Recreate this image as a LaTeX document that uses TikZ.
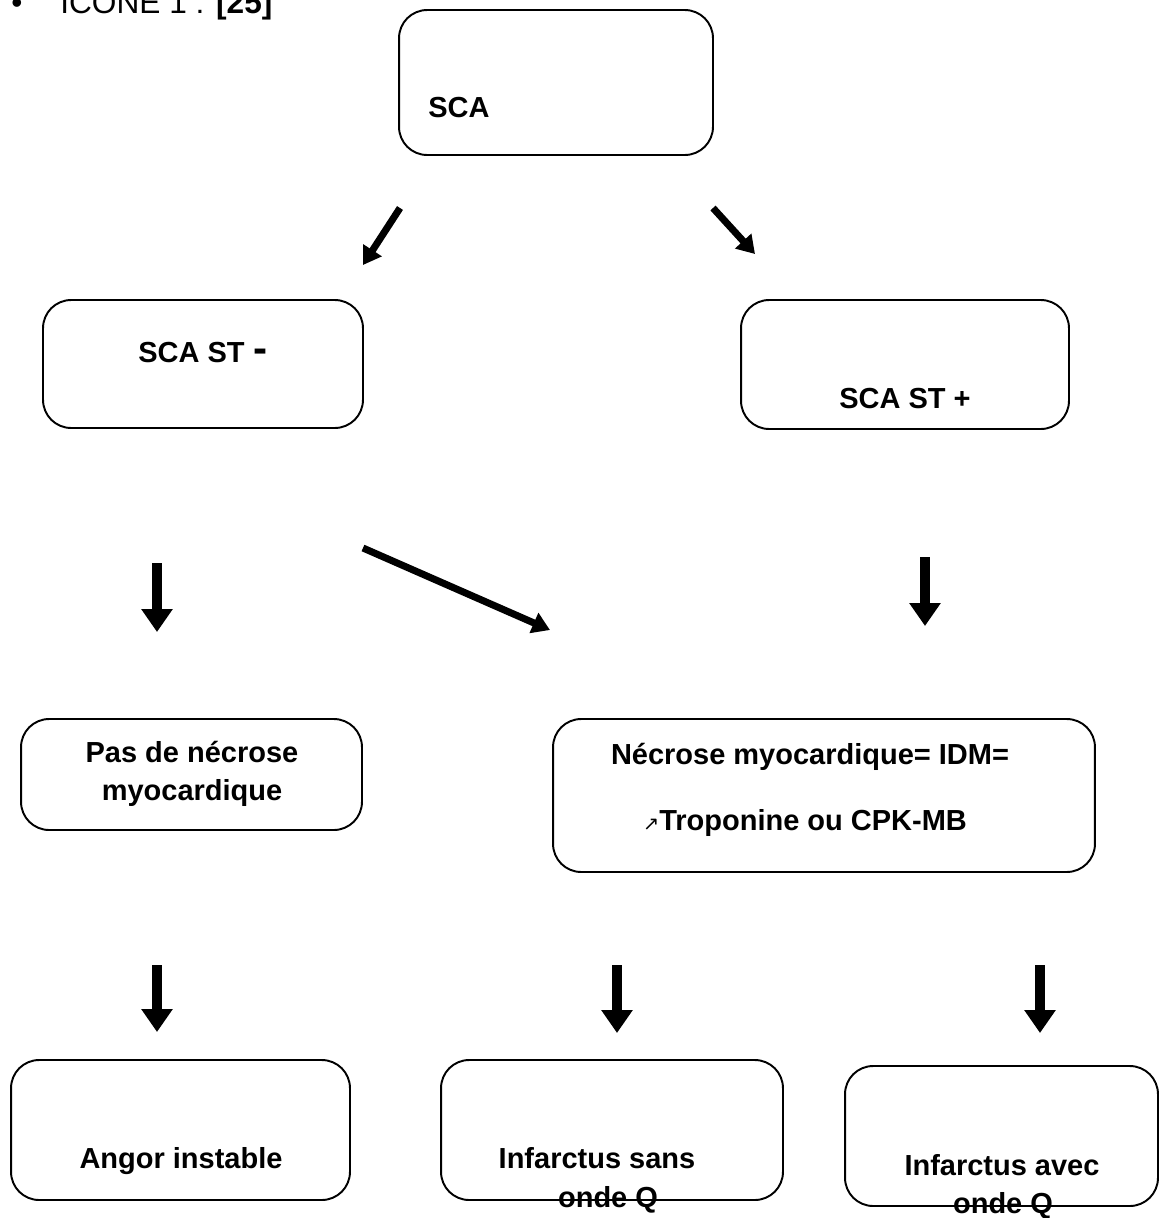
\documentclass[tikz,border=0pt]{standalone}
\usepackage{fontspec}
\setmainfont{Liberation Sans}
\newfontfamily\symbfont{DejaVu Sans}
\usetikzlibrary{arrows.meta}

\tikzset{
    box/.style={draw, rounded corners=16pt, line width=1.1pt, inner sep=0pt, outer sep=0pt},
    lbl/.style={font=\fontsize{16.5}{22}\selectfont\bfseries, anchor=base, inner sep=0pt},
    flow/.style={line width=6pt, -{Triangle[length=13pt, width=17pt]}},
    slant/.style={line width=4pt, -{Triangle[length=10pt, width=12pt]}}
}

\begin{document}
\begin{tikzpicture}[x=0.02cm, y=-0.02cm]
        \useasboundingbox (0,0) rectangle (1161,1218);

        %header
        \node[lbl, font=\fontsize{18}{22}\selectfont] (bullet) at (17,13) {\textbullet};
        \node[lbl, anchor=base west, font=\fontsize{18}{22}\selectfont] (head) at (60,13) {ICONE 1 : \textbf{[25]}};

        %boxes
        \node[box, minimum width=6.28cm, minimum height=2.9cm] (sca) at (556,82.5) {};
        \node[box, minimum width=6.4cm, minimum height=2.56cm] (stm) at (203,364) {};
        \node[box, minimum width=6.56cm, minimum height=2.58cm] (stp) at (905,364.5) {};
        \node[box, minimum width=6.82cm, minimum height=2.22cm] (pasnec) at (191.5,774.5) {};
        \node[box, minimum width=10.84cm, minimum height=3.06cm] (nec) at (824,795.5) {};
        \node[box, minimum width=6.78cm, minimum height=2.8cm] (angor) at (180.5,1130) {};
        \node[box, minimum width=6.84cm, minimum height=2.8cm] (sansq) at (612,1130) {};
        \node[box, minimum width=6.26cm, minimum height=2.8cm] (avecq) at (1001.5,1136) {};

        %texts
        \node[lbl, anchor=base west] (t_sca) at (428,117) {SCA};
        \node[lbl, anchor=base west] (t_stm) at (138,362) {SCA ST\hspace{5pt}{\fontsize{24}{24}\selectfont -}};
        \node[lbl] (t_stp) at (905,408) {SCA ST +};
        \node[lbl] (t_pas1) at (192,762) {Pas de nécrose};
        \node[lbl] (t_pas2) at (192,800) {myocardique};
        \node[lbl] (t_nec1) at (810,764) {Nécrose myocardique= IDM=};
        \node[lbl] (t_nec2) at (805,830) {{\symbfont\mdseries\fontsize{11}{11}\selectfont ↗}Troponine ou CPK-MB};
        \node[lbl] (t_angor) at (181,1168) {Angor instable};
        \node[lbl] (t_sans1) at (597,1168) {Infarctus sans};
        \node[lbl] (t_sans2) at (608,1207) {onde Q};
        \node[lbl] (t_avec1) at (1002,1175) {Infarctus avec};
        \node[lbl] (t_avec2) at (1003,1213) {onde Q};

        %arrow ends
        \coordinate (a1s) at (400,208);  \coordinate (a1e) at (363,265);
        \coordinate (a2s) at (713,208);  \coordinate (a2e) at (755,254);
        \coordinate (a3s) at (157,563);  \coordinate (a3e) at (157,632);
        \coordinate (a4s) at (363,548);  \coordinate (a4e) at (550,630);
        \coordinate (a5s) at (925,557);  \coordinate (a5e) at (925,626);
        \coordinate (a6s) at (157,965);  \coordinate (a6e) at (157,1032);
        \coordinate (a7s) at (617,965);  \coordinate (a7e) at (617,1033);
        \coordinate (a8s) at (1040,965); \coordinate (a8e) at (1040,1033);

        %SCA to ST- and ST+
        \draw[slant] (a1s) -- (a1e);
        \draw[slant] (a2s) -- (a2e);

        %ST- to both, ST+ to necrose
        \draw[flow] (a3s) -- (a3e);
        \draw[slant] (a4s) -- (a4e);
        \draw[flow] (a5s) -- (a5e);

        %last row
        \draw[flow] (a6s) -- (a6e);
        \draw[flow] (a7s) -- (a7e);
        \draw[flow] (a8s) -- (a8e);
    \end{tikzpicture}
\end{document}
